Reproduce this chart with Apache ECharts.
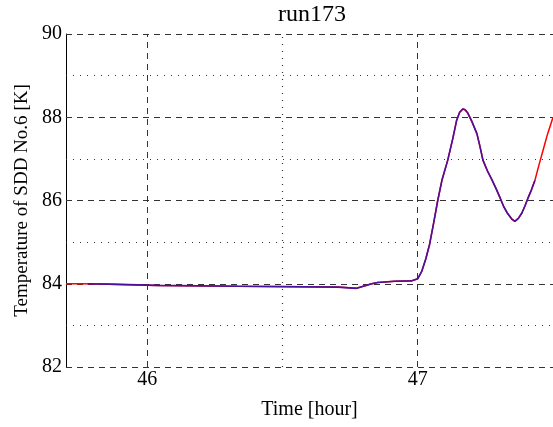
<!DOCTYPE html>
<html><head><meta charset="utf-8">
<script src="https://cdn.jsdelivr.net/npm/echarts@6/dist/echarts.min.js"></script>
<style>html,body{margin:0;padding:0;background:#fff}#c{width:553px;height:427px}</style>
</head><body><div id="c"></div>
<script>
const titleText = "run173";
const xName = "Time [hour]";
const yName = "Temperature of SDD No.6 [K]";
const xTickLabels = [46, 47];
const xMajorGrid = [46, 47];
const xMinorGrid = [46.5];
const yMajorGrid = [82, 84, 86, 88, 90];
const yMinorGrid = [83, 85, 87, 89];
// red trace (full)
const redTime = [45.7, 45.76, 45.859, 45.86, 46.037, 46.04, 46.333, 46.335, 46.704, 46.706, 46.774, 46.83, 46.852, 46.915, 46.978, 47.0, 47.015, 47.03, 47.044, 47.06, 47.074, 47.09, 47.111, 47.13, 47.144, 47.155, 47.167, 47.175, 47.185, 47.2, 47.219, 47.23, 47.241, 47.257, 47.274, 47.29, 47.304, 47.318, 47.333, 47.347, 47.359, 47.372, 47.385, 47.397, 47.407, 47.42, 47.433, 47.448, 47.463, 47.48, 47.5];
const redTemp = [84.0, 84.0, 83.99, 83.96, 83.96, 83.94, 83.94, 83.92, 83.92, 83.89, 83.89, 84.0, 84.03, 84.06, 84.07, 84.12, 84.3, 84.6, 84.95, 85.5, 86.0, 86.5, 86.97, 87.5, 87.93, 88.12, 88.2, 88.18, 88.1, 87.9, 87.6, 87.3, 86.97, 86.72, 86.5, 86.28, 86.07, 85.85, 85.68, 85.56, 85.5, 85.57, 85.7, 85.88, 86.05, 86.25, 86.48, 86.85, 87.2, 87.6, 88.0];
// purple trace (overlay)
const blueTime = [45.78, 45.859, 45.86, 46.037, 46.04, 46.333, 46.335, 46.704, 46.706, 46.774, 46.83, 46.852, 46.915, 46.978, 47.0, 47.015, 47.03, 47.044, 47.06, 47.074, 47.09, 47.111, 47.13, 47.144, 47.155, 47.167, 47.175, 47.185, 47.2, 47.219, 47.23, 47.241, 47.257, 47.274, 47.29, 47.304, 47.318, 47.333, 47.347, 47.359, 47.372, 47.385, 47.397, 47.407, 47.42, 47.433];
const blueTemp = [84.0, 83.99, 83.96, 83.96, 83.94, 83.94, 83.92, 83.92, 83.89, 83.89, 84.0, 84.03, 84.06, 84.07, 84.12, 84.3, 84.6, 84.95, 85.5, 86.0, 86.5, 86.97, 87.5, 87.93, 88.12, 88.2, 88.18, 88.1, 87.9, 87.6, 87.3, 86.97, 86.72, 86.5, 86.28, 86.07, 85.85, 85.68, 85.56, 85.5, 85.57, 85.7, 85.88, 86.05, 86.25, 86.48];

const font = "Liberation Serif";
const zip = (a, b) => a.map((v, i) => [v, b[i]]);
const ml = [];
xMajorGrid.forEach(v => ml.push({xAxis: v, lineStyle: {type: [6, 5], color: '#333', width: 1}}));
xMinorGrid.forEach(v => ml.push({xAxis: v, lineStyle: {type: [1, 6], color: '#333', width: 1.2}}));
yMajorGrid.forEach(v => ml.push({yAxis: v, lineStyle: {type: [6, 5], color: '#333', width: 1}}));
yMinorGrid.forEach(v => ml.push({yAxis: v, lineStyle: {type: [1, 6], color: '#333', width: 1.2}}));

const chart = echarts.init(document.getElementById('c'), null, {renderer: 'canvas'});
chart.setOption({
  animation: false,
  backgroundColor: '#fff',
  title: {text: titleText, left: 312, top: 3, padding: 0, textAlign: 'center',
    textStyle: {fontFamily: font, fontSize: 24, fontWeight: 'normal', color: '#000'}},
  grid: {left: 66, top: 34, right: 0, bottom: 60, outerBoundsMode: 'none'},
  xAxis: {type: 'value', min: 45.7, max: 47.5,
    name: xName, nameLocation: 'middle', nameGap: 33,
    nameTextStyle: {fontFamily: font, fontSize: 20, color: '#000'},
    axisLine: {show: false}, axisTick: {show: false}, splitLine: {show: false},
    axisLabel: {customValues: xTickLabels, fontFamily: font, fontSize: 20, color: '#000', margin: 3}},
  yAxis: {type: 'value', min: 82, max: 90, interval: 2,
    name: yName, nameLocation: 'middle', nameGap: 34,
    nameTextStyle: {fontFamily: font, fontSize: 19, color: '#000'},
    axisLine: {show: true, lineStyle: {color: '#000', width: 1}}, axisTick: {show: false}, splitLine: {show: false},
    axisLabel: {fontFamily: font, fontSize: 20, color: '#000', margin: 4}},
  series: [
    {type: 'line', data: zip(redTime, redTemp), showSymbol: false, z: 3,
     lineStyle: {color: '#ff0000', width: 1.5},
     markLine: {silent: true, symbol: ['none', 'none'], label: {show: false}, animation: false, data: ml, z: 1}},
    {type: 'line', data: zip(blueTime, blueTemp), showSymbol: false, z: 4,
     lineStyle: {color: '#4a10a0', width: 1.6}}
  ]
});
</script></body></html>
